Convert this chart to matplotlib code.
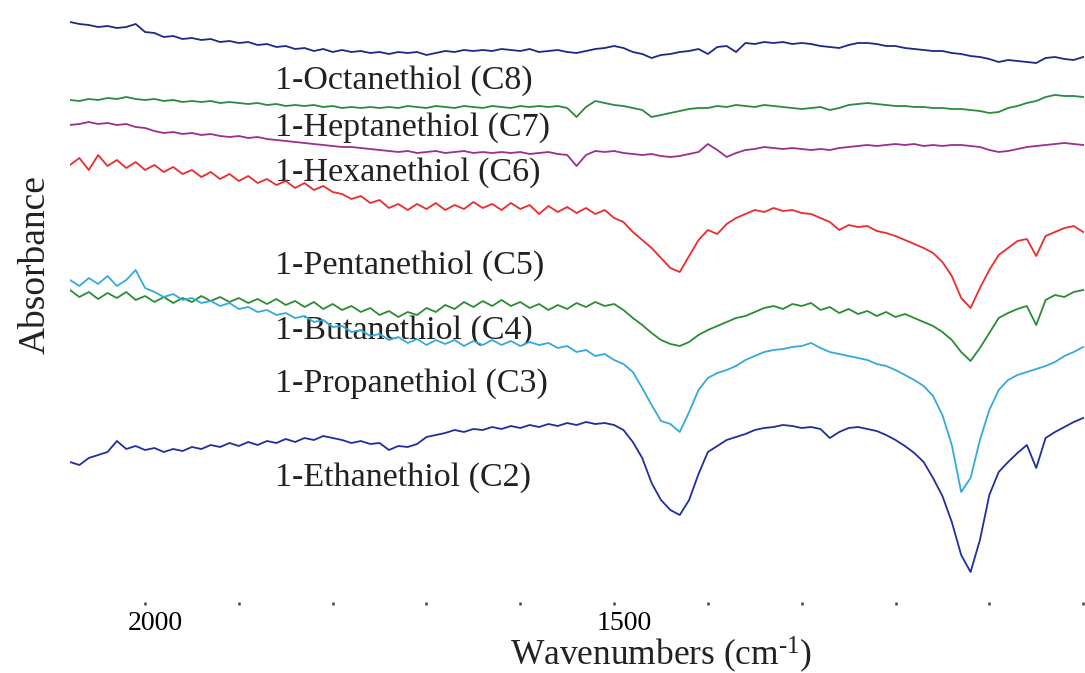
import numpy as np
import matplotlib
matplotlib.use("Agg")
import matplotlib.pyplot as plt
from matplotlib.transforms import ScaledTranslation

plt.rcParams['font.family'] = ['Liberation Serif', 'DejaVu Serif']
plt.rcParams['mathtext.fontset'] = 'custom'
plt.rcParams['mathtext.rm'] = 'Liberation Serif'
plt.rcParams['mathtext.default'] = 'regular'

# wavenumber grid, 2080 -> 1000 cm-1, one reading every 10 cm-1
wavenumbers = np.arange(2080, 999, -10)

# traces (depth units, larger = lower on the plot)
c8 = [22, 24, 25, 27, 26, 28, 27, 24, 32, 33, 37, 36, 39, 38, 40, 39, 42, 41, 43, 42,
      45, 44, 47, 46, 49, 48, 51, 49, 52, 50, 52, 51, 53, 52, 54, 52, 53, 52, 55, 53,
      51, 52, 50, 51, 50, 51, 49, 50, 51, 49, 52, 51, 50, 52, 53, 51, 49, 48, 46, 48,
      52, 54, 58, 55, 54, 52, 51, 49, 54, 47, 46, 52, 43, 44, 42, 43, 42, 44, 43, 44,
      46, 47, 48, 45, 43, 43, 44, 46, 46, 48, 49, 50, 51, 51, 53, 54, 56, 57, 59, 62,
      60, 61, 62, 63, 58, 57, 59, 60, 57]
c7 = [100, 101, 99, 100, 98, 99, 97, 99, 100, 99, 101, 100, 102, 101, 102, 101, 103, 102, 103, 104,
      103, 105, 104, 106, 105, 106, 105, 107, 106, 108, 107, 108, 107, 108, 107, 108, 106, 107, 108, 106,
      107, 108, 106, 107, 108, 106, 107, 108, 106, 107, 106, 107, 106, 108, 117, 107, 101, 103, 105, 106,
      108, 110, 117, 115, 113, 111, 109, 108, 108, 106, 107, 105, 106, 107, 105, 106, 107, 108, 109, 108,
      107, 110, 108, 105, 104, 103, 104, 105, 106, 106, 107, 107, 108, 108, 109, 109, 110, 111, 113, 112,
      108, 106, 103, 101, 97, 95, 96, 96, 97]
c6 = [125, 124, 122, 124, 123, 125, 124, 127, 128, 131, 133, 132, 134, 133, 135, 134, 136, 137, 136, 138,
      137, 139, 140, 141, 142, 143, 144, 145, 146, 147, 147, 148, 149, 150, 151, 152, 151, 153, 152, 151,
      153, 152, 151, 153, 152, 153, 152, 153, 152, 154, 153, 152, 154, 155, 166, 155, 151, 152, 151, 153,
      154, 155, 154, 156, 157, 156, 154, 152, 144, 150, 157, 153, 150, 149, 147, 148, 149, 148, 149, 150,
      149, 150, 148, 147, 146, 145, 146, 145, 144, 145, 144, 146, 145, 146, 145, 145, 146, 147, 150, 152,
      151, 149, 147, 146, 145, 144, 143, 144, 145]
c5 = [165, 158, 170, 155, 166, 160, 168, 162, 170, 165, 172, 167, 174, 170, 177, 172, 179, 174, 181, 176,
      183, 179, 185, 181, 188, 183, 190, 186, 192, 194, 199, 196, 203, 200, 208, 204, 210, 204, 209, 203,
      210, 205, 209, 202, 208, 204, 210, 203, 209, 205, 214, 206, 212, 207, 213, 208, 214, 210, 218, 222,
      232, 240, 248, 258, 268, 272, 256, 240, 230, 234, 224, 218, 214, 210, 212, 208, 211, 210, 213, 214,
      218, 222, 230, 225, 227, 226, 231, 233, 236, 240, 244, 248, 253, 262, 276, 298, 308, 288, 270, 255,
      248, 241, 239, 256, 236, 232, 228, 226, 232]
c4 = [290, 297, 292, 299, 293, 298, 292, 300, 296, 302, 297, 303, 298, 302, 296, 301, 297, 302, 298, 303,
      299, 304, 299, 305, 301, 307, 302, 309, 304, 310, 306, 312, 308, 315, 311, 317, 312, 315, 308, 312,
      305, 309, 302, 307, 301, 306, 300, 306, 302, 308, 304, 310, 305, 309, 303, 307, 302, 306, 304, 310,
      318, 325, 333, 340, 344, 346, 342, 335, 330, 326, 322, 318, 316, 312, 308, 306, 309, 304, 306, 303,
      310, 307, 313, 309, 314, 311, 316, 312, 317, 314, 318, 322, 326, 332, 340, 352, 361, 348, 333, 318,
      313, 309, 306, 325, 300, 295, 297, 292, 290]
c3 = [280, 286, 278, 284, 276, 286, 280, 270, 288, 292, 297, 294, 300, 298, 303, 301, 306, 303, 309, 307,
      312, 310, 315, 313, 318, 316, 322, 320, 327, 326, 332, 330, 336, 334, 340, 337, 343, 339, 345, 340,
      344, 340, 346, 341, 345, 340, 345, 341, 346, 342, 345, 343, 348, 346, 352, 350, 356, 354, 360, 364,
      372, 388, 405, 421, 424, 432, 412, 390, 378, 373, 370, 366, 360, 356, 352, 350, 349, 347, 346, 343,
      348, 352, 354, 356, 358, 360, 364, 366, 370, 375, 380, 386, 396, 415, 445, 492, 478, 440, 410, 390,
      380, 375, 372, 369, 366, 362, 356, 352, 347]
c2 = [462, 465, 458, 455, 452, 441, 449, 446, 450, 448, 452, 449, 451, 447, 449, 445, 447, 443, 446, 442,
      445, 441, 443, 439, 442, 438, 440, 436, 438, 440, 443, 441, 444, 443, 450, 446, 447, 444, 437, 435,
      433, 430, 432, 429, 430, 427, 429, 426, 428, 425, 427, 424, 426, 423, 425, 422, 424, 423, 425, 430,
      442, 458, 483, 500, 510, 515, 500, 474, 452, 446, 440, 437, 434, 430, 428, 427, 425, 426, 428, 427,
      429, 438, 432, 428, 427, 429, 431, 435, 440, 446, 453, 462, 478, 496, 522, 555, 572, 540, 495, 472,
      462, 453, 445, 468, 438, 432, 427, 422, 418]

traces = [c8, c7, c6, c5, c4, c3, c2]
names = ['1-Octanethiol (C8)', '1-Heptanethiol (C7)', '1-Hexanethiol (C6)',
         '1-Pentanethiol (C5)', '1-Butanethiol (C4)', '1-Propanethiol (C3)',
         '1-Ethanethiol (C2)']
label_y = [5.24, 4.77, 4.32, 3.39, 2.74, 2.21, 1.27]
colors = ['#1d2a85', '#2b8a3e', '#9b2f8f', '#ee2b2b', '#2a8c34', '#35a9dc', '#1f2f9e']

fig = plt.figure(figsize=(10.85, 6.73), dpi=100)
ax = fig.add_axes([70 / 1085, 68 / 673, 1015 / 1085, 605 / 673])

for vals, name, ly, col in zip(traces, names, label_y, colors):
    absorb = (605 - np.array(vals)) / 100.0   # stacked absorbance, a.u.
    ax.plot(wavenumbers, absorb, color=col, lw=1.3, zorder=2)
    ax.text(1862, ly, name, fontsize=24.5, color='#222222', va='center', ha='left', zorder=1)

ax.set_xlim(2080, 998)
ax.set_ylim(0, 6.05)

ticks = np.arange(2000, 999, -100)
ax.set_xticks(ticks)
ax.set_xticklabels([str(t) if t in (2000, 1500) else '' for t in ticks], fontsize=20)
ax.tick_params(axis='x', direction='in', length=2.5, width=1.8, color='#444444', pad=4)
for lab in ax.get_xticklabels():
    lab.set_transform(lab.get_transform() + ScaledTranslation(0.10, 0, fig.dpi_scale_trans))
ax.set_yticks([])
for s in ax.spines.values():
    s.set_visible(False)

fig.text(661 / 1085, 1 - 665 / 673, r'Wavenumbers (cm$^{\text{-1}}$)', fontsize=25.5,
         ha='center', va='baseline', color='#222222')
fig.text(35 / 1085, 1 - 265 / 673, 'Absorbance', fontsize=27, rotation=90,
         ha='center', va='center', color='#222222')

fig.savefig('out.png', dpi=100)
